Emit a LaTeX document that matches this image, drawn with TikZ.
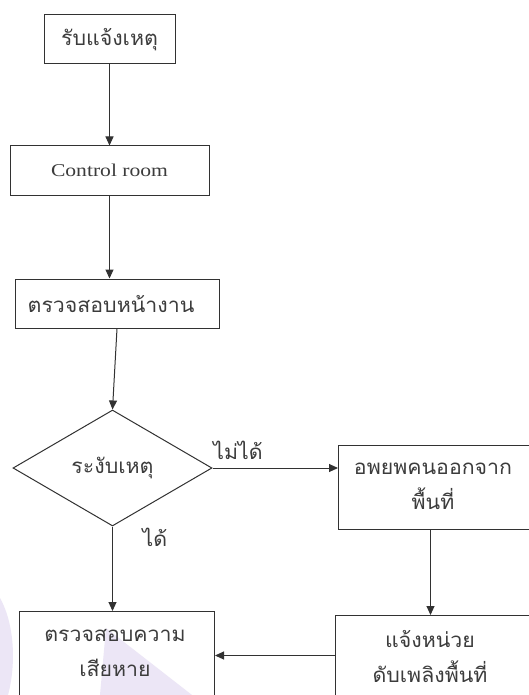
\documentclass[tikz,border=0pt]{standalone}
\usepackage{fontspec}
\setmainfont{Liberation Serif}
\newfontfamily\thai[Script=Thai,FakeStretch=1.04]{Loma}
\newfontfamily\ctrlfont[FakeStretch=1.2]{Liberation Serif}
\usetikzlibrary{shapes.geometric,arrows.meta}
\definecolor{ln}{RGB}{50,50,50}
\definecolor{tx}{RGB}{60,60,60}
\definecolor{wm}{RGB}{236,230,246}
\tikzset{
  box/.style={draw=ln, line width=1pt, rectangle, inner sep=0pt},
  lbl/.style={text=tx, font=\thai\fontsize{20.5}{35}\selectfont, align=center, inner sep=0pt},
  arr/.style={draw=ln, line width=1pt, -{Triangle[length=9pt,width=8pt]}},
}
\begin{document}
\begin{tikzpicture}[x=1pt,y=-1pt]
\useasboundingbox (0,0) rectangle (529,695);
\clip (0,0) rectangle (529,695);
\fill[white] (0,0) rectangle (529,695);
% watermark
\fill[wm] (0,598) .. controls (15,625) and (16,665) .. (8,695) -- (0,695) -- cycle;
\fill[wm] (106,628) -- (192,695) -- (100,695) -- cycle;
% boxes
\node[box, minimum width=131, minimum height=49] (b1) at (109.5,39.5) {};
\node[lbl] (t1) at (b1.center) {รับแจ้งเหตุ};
\node[box, minimum width=199, minimum height=49] (b2) at (109.5,170.5) {};
\node[text=tx, font=\ctrlfont\fontsize{18}{20}\selectfont, inner sep=0pt] (t2) at (b2.center) {Control room};
\node[box, minimum width=204, minimum height=49] (b3) at (117,303.5) {};
\node[lbl] (t3) at (111,303.5) {ตรวจสอบหน้างาน};
\node[draw=ln, line width=1pt, diamond, aspect=1.72, minimum width=199, minimum height=116, inner sep=0pt] (d) at (112.5,468) {};
\node[lbl] (td) at (d.center) {ระงับเหตุ};
\node[box, minimum width=222, minimum height=84, anchor=north west] (b4) at (338,445) {};
\node[lbl] (t4) at (433,486) {อพยพคนออกจาก\\พื้นที่};
\node[box, minimum width=222, minimum height=110, anchor=north west] (b5) at (335,615) {};
\node[lbl] (t5) at (430,656) {แจ้งหน่วย\\ดับเพลิงพื้นที่};
\node[box, minimum width=195, minimum height=84, anchor=north west] (b6) at (19,611) {};
\node[lbl] (t6) at (115,653) {ตรวจสอบความ\\เสียหาย};
% labels
\node[lbl] (l1) at (238,450) {ไม่ได้};
\node[lbl] (l2) at (155,537) {ได้};
% connectors
\draw[arr] (b1.south) -- (b2.north);
\draw[arr] (b2.south) -- (b2.south |- b3.north);
\draw[arr] (b3.south) -- (d.north);
\draw[arr] (d.east) -- (d.east -| b4.west);
\draw[arr] (d.south) -- (d.south |- b6.north);
\draw[arr] ([xshift=-19pt]b4.south) -- ([xshift=-16pt]b5.north);
\coordinate (m5) at ([yshift=15pt]b5.west);
\draw[arr] (m5) -- (m5 -| b6.east);
\end{tikzpicture}
\end{document}
